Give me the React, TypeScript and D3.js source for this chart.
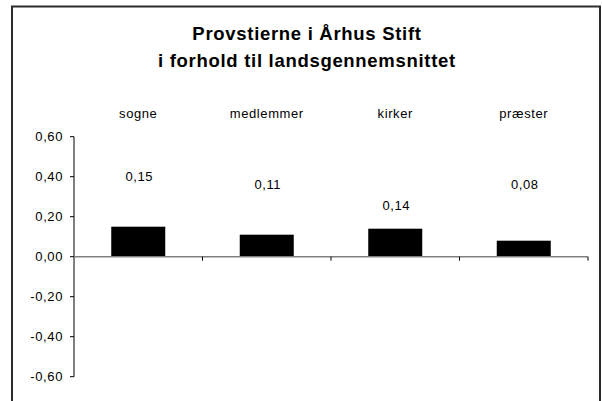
import React, { useMemo } from 'react';
import { scaleBand, scaleLinear } from 'd3';

const TITLE_LINES = ['Provstierne i Århus Stift', 'i forhold til landsgennemsnittet'];
const categories = ['sogne', 'medlemmer', 'kirker', 'præster'];
const values = [0.15, 0.11, 0.14, 0.08];
// hvor dataetiketterne står (i værdienheder), som i originalen
const labelAt = [0.4, 0.363, 0.255, 0.363];
const yTicks = [0.6, 0.4, 0.2, 0, -0.2, -0.4, -0.6];

const FONT = 'Arial, "Liberation Sans", Helvetica, sans-serif';
const fmt = (v: number) => v.toFixed(2).replace('.', ',');

export default function App() {
	const W = 602;
	const H = 401;
	const left = 74;
	const right = 588;

	const x = useMemo(() => scaleBand<string>().domain(categories).range([left, right]).paddingInner(0).paddingOuter(0), []);
	const y = useMemo(() => scaleLinear().domain([-0.6, 0.6]).range([376.7, 136.7]), []);
	const barW = 54;
	const y0 = y(0);

	return (
		<svg width={W} height={H} style={{ position: 'absolute', left: 0, top: 0, background: '#fff' }} fontFamily={FONT}>
			<rect x={12} y={6.5} width={588} height={420} fill="#fff" stroke="#2b2b2b" strokeWidth={2} />

			{TITLE_LINES.map((t, i) => (
				<text key={t} x={307} y={40 + i * 26.5} textAnchor="middle" fontSize={18.5} letterSpacing={0.7} fontWeight="bold" fill="#000">
					{t}
				</text>
			))}

			{categories.map((c) => (
				<text key={c} x={x(c)! + x.bandwidth() / 2} y={118} textAnchor="middle" fontSize={13} letterSpacing={0.6} fill="#000">
					{c}
				</text>
			))}

			{/* y-akse */}
			<line x1={left} x2={left} y1={y(0.6)} y2={y(-0.6)} stroke="#000" strokeWidth={1} />
			{yTicks.map((t) => (
				<g key={t}>
					<line x1={left - 4} x2={left} y1={y(t)} y2={y(t)} stroke="#000" />
					<text x={63} y={y(t) + 4.5} textAnchor="end" fontSize={13} letterSpacing={0.6} fill="#000">
						{fmt(t)}
					</text>
				</g>
			))}

			{/* søjler */}
			{categories.map((c, i) => {
				const cx = x(c)! + x.bandwidth() / 2;
				return (
					<g key={c}>
						<rect x={cx - barW / 2} y={y(values[i])} width={barW} height={y0 - y(values[i])} fill="#000" />
						<text x={cx + 1} y={y(labelAt[i]) + 4.5} textAnchor="middle" fontSize={13} letterSpacing={0.6} fill="#000">
							{fmt(values[i])}
						</text>
					</g>
				);
			})}

			{/* x-akse ved 0 */}
			<line x1={left} x2={right} y1={y0} y2={y0} stroke="#808080" strokeWidth={1.5} />
			{categories.map((c) => (
				<line key={c} x1={x(c)! + x.bandwidth()} x2={x(c)! + x.bandwidth()} y1={y0} y2={y0 + 4} stroke="#000" />
			))}
		</svg>
	);
}
